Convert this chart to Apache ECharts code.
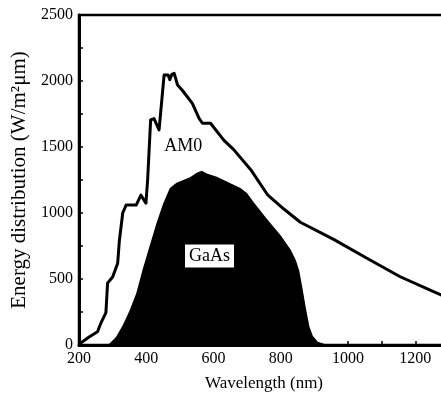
<!DOCTYPE html>
<html>
<head>
<meta charset="utf-8">
<script src="https://cdn.jsdelivr.net/npm/echarts@6/dist/echarts.min.js"></script>
<style>html,body{margin:0;padding:0;background:#fff;overflow:hidden}#c{width:441px;height:405px}</style>
</head>
<body>
<div id="c"></div>
<script>
// AM0 spectrum (wavelength nm, W/m^2 um)
const am0Wave = [200,230,255,265,280,285,300,315,320,330,340,370,384,399,404,413,423,438,453,465,470,476,483,493,507,537,557,567,591,631,660,710,760,809,858,957,1056,1155,1254,1300];
const am0Value = [5,60,100,165,245,470,515,620,790,1000,1060,1060,1135,1075,1250,1705,1715,1630,2045,2045,2010,2050,2058,1970,1930,1830,1717,1680,1680,1550,1480,1330,1140,1030,930,800,657,517,404,355];
// GaAs usable part (filled)
const gaasWave = [270,290,310,330,350,370,390,410,430,450,470,490,510,530,550,565,580,610,650,680,700,720,760,800,830,845,855,865,875,885,895,910,930,950];
const gaasValue = [0,10,60,150,260,390,580,750,920,1070,1190,1230,1250,1270,1305,1320,1300,1275,1225,1190,1150,1080,950,830,720,640,560,420,270,140,70,25,8,0];
const xTicks = {min:200, max:1300, interval:200};
const yTicks = {min:0, max:2500, interval:500};
const labels = {am0:{text:'AM0', x:510, y:1505}, gaas:{text:'GaAs', x:588, y:674}};

const serif = '"Liberation Serif","DejaVu Serif",serif';
const chart = echarts.init(document.getElementById('c'), null, {renderer:'canvas'});
chart.setOption({
  animation:false,
  backgroundColor:'#fff',
  grid:{left:79, width:370, top:15, bottom:60, outerBoundsMode:'none', containLabel:false,
    show:true, borderColor:'#000', borderWidth:2.5, backgroundColor:'transparent'},
  xAxis:{
    type:'value', min:xTicks.min, max:xTicks.max, interval:xTicks.interval,
    name:'Wavelength (nm)', nameLocation:'middle', nameGap:30,
    nameTextStyle:{fontFamily:serif, fontSize:17, color:'#000'},
    axisLine:{show:true, lineStyle:{color:'#000', width:3}},
    axisTick:{show:true, inside:true, length:4, lineStyle:{color:'#000', width:1.5}},
    minorTick:{show:true, splitNumber:2, length:4, lineStyle:{color:'#000', width:1.5}},
    axisLabel:{fontFamily:serif, fontSize:16, color:'#000', margin:6,
      formatter:v => v >= 1300 ? '' : String(v)},
    splitLine:{show:false}
  },
  yAxis:{
    type:'value', min:yTicks.min, max:yTicks.max, interval:yTicks.interval,
    name:'Energy distribution (W/m\u00B2\u03BCm)', nameLocation:'middle', nameGap:42, nameRotate:90,
    nameTextStyle:{fontFamily:serif, fontSize:21, color:'#000'},
    axisLine:{show:true, lineStyle:{color:'#000', width:3}},
    axisTick:{show:true, inside:true, length:4, lineStyle:{color:'#000', width:1.5}},
    minorTick:{show:true, splitNumber:2, length:4, lineStyle:{color:'#000', width:1.5}},
    axisLabel:{fontFamily:serif, fontSize:16, color:'#000', margin:6, formatter:v => String(v)},
    splitLine:{show:false}
  },
  series:[
    {
      type:'line', name:'GaAs', symbol:'none', silent:true,
      data: gaasWave.map((w,i)=>[w,gaasValue[i]]),
      lineStyle:{width:0, color:'#000'},
      areaStyle:{color:'#000', opacity:1},
      markPoint:{symbol:'rect', symbolSize:0, silent:true,
        data:[{coord:[labels.gaas.x, labels.gaas.y], value:labels.gaas.text}],
        label:{show:true, position:'inside', formatter:labels.gaas.text, fontFamily:serif, fontSize:18, color:'#000',
          backgroundColor:'#fff', padding:[3,4,2,4]}}
    },
    {
      type:'line', name:'AM0', symbol:'none', silent:true,
      data: am0Wave.map((w,i)=>[w,am0Value[i]]),
      lineStyle:{width:3, color:'#000', join:'round'},
      markPoint:{symbol:'rect', symbolSize:0, silent:true,
        data:[{coord:[labels.am0.x, labels.am0.y], value:labels.am0.text}],
        label:{show:true, position:'inside', formatter:labels.am0.text, fontFamily:serif, fontSize:18, color:'#000'}}
    }
  ]
});
</script>
</body>
</html>
